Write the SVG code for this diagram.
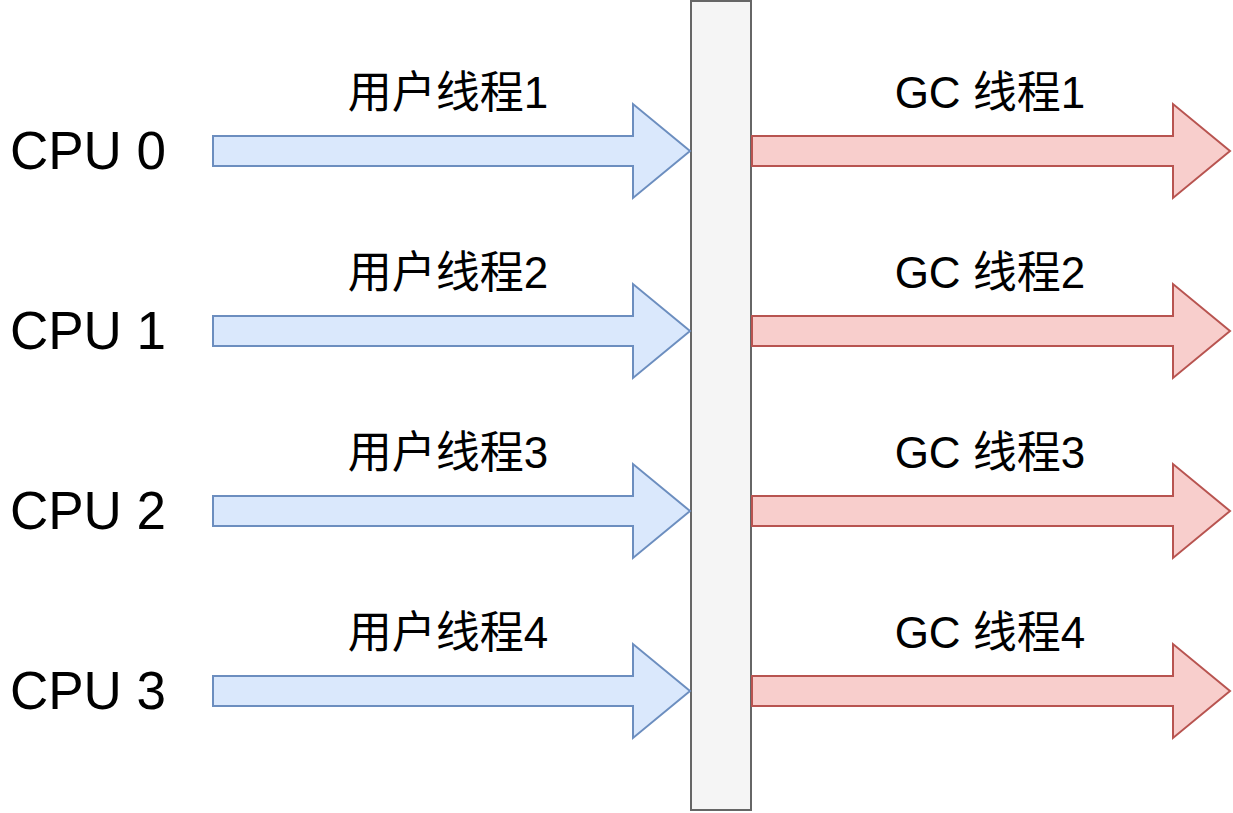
<svg xmlns="http://www.w3.org/2000/svg" width="1233" height="813" viewBox="0 0 1233 813">
<style>
.blue{fill:#dae8fc;stroke:#6c8ebf;stroke-width:2;stroke-linejoin:miter}
.red{fill:#f8cecc;stroke:#b85450;stroke-width:2;stroke-linejoin:miter}
.bar{fill:#f5f5f5;stroke:#666666;stroke-width:2}
.cpu{font-family:"Liberation Sans","Noto Sans CJK SC",sans-serif;font-size:53px;fill:#000;text-anchor:middle}
.lbl{font-family:"Liberation Sans","Noto Sans CJK SC",sans-serif;font-size:44px;fill:#000;text-anchor:middle}
</style>
<defs>
<path id="arrowL" d="M0,-15 H420 V-47 L477,0 L420,47 V15 H0 Z"/>
<path id="arrowR" d="M0,-15 H421 V-47 L478,0 L421,47 V15 H0 Z"/>
</defs>
<g id="barrier"><rect class="bar" x="691" y="1" width="60" height="809"/></g>
<g id="connectors">
<use href="#arrowL" class="blue" x="213" y="151"/>
<use href="#arrowL" class="blue" x="213" y="331"/>
<use href="#arrowL" class="blue" x="213" y="511"/>
<use href="#arrowL" class="blue" x="213" y="691"/>
<use href="#arrowR" class="red" x="752" y="151"/>
<use href="#arrowR" class="red" x="752" y="331"/>
<use href="#arrowR" class="red" x="752" y="511"/>
<use href="#arrowR" class="red" x="752" y="691"/>
</g>
<g id="cpu0"><text class="cpu" x="88" y="169">CPU 0</text></g>
<g id="cpu1"><text class="cpu" x="88" y="349">CPU 1</text></g>
<g id="cpu2"><text class="cpu" x="88" y="529">CPU 2</text></g>
<g id="cpu3"><text class="cpu" x="88" y="709">CPU 3</text></g>
<g id="user1"><text class="lbl" x="448" y="108">用户线程1</text></g>
<g id="user2"><text class="lbl" x="448" y="288">用户线程2</text></g>
<g id="user3"><text class="lbl" x="448" y="468">用户线程3</text></g>
<g id="user4"><text class="lbl" x="448" y="648">用户线程4</text></g>
<g id="gc1"><text class="lbl" x="990" y="108">GC 线程1</text></g>
<g id="gc2"><text class="lbl" x="990" y="288">GC 线程2</text></g>
<g id="gc3"><text class="lbl" x="990" y="468">GC 线程3</text></g>
<g id="gc4"><text class="lbl" x="990" y="648">GC 线程4</text></g>
</svg>
